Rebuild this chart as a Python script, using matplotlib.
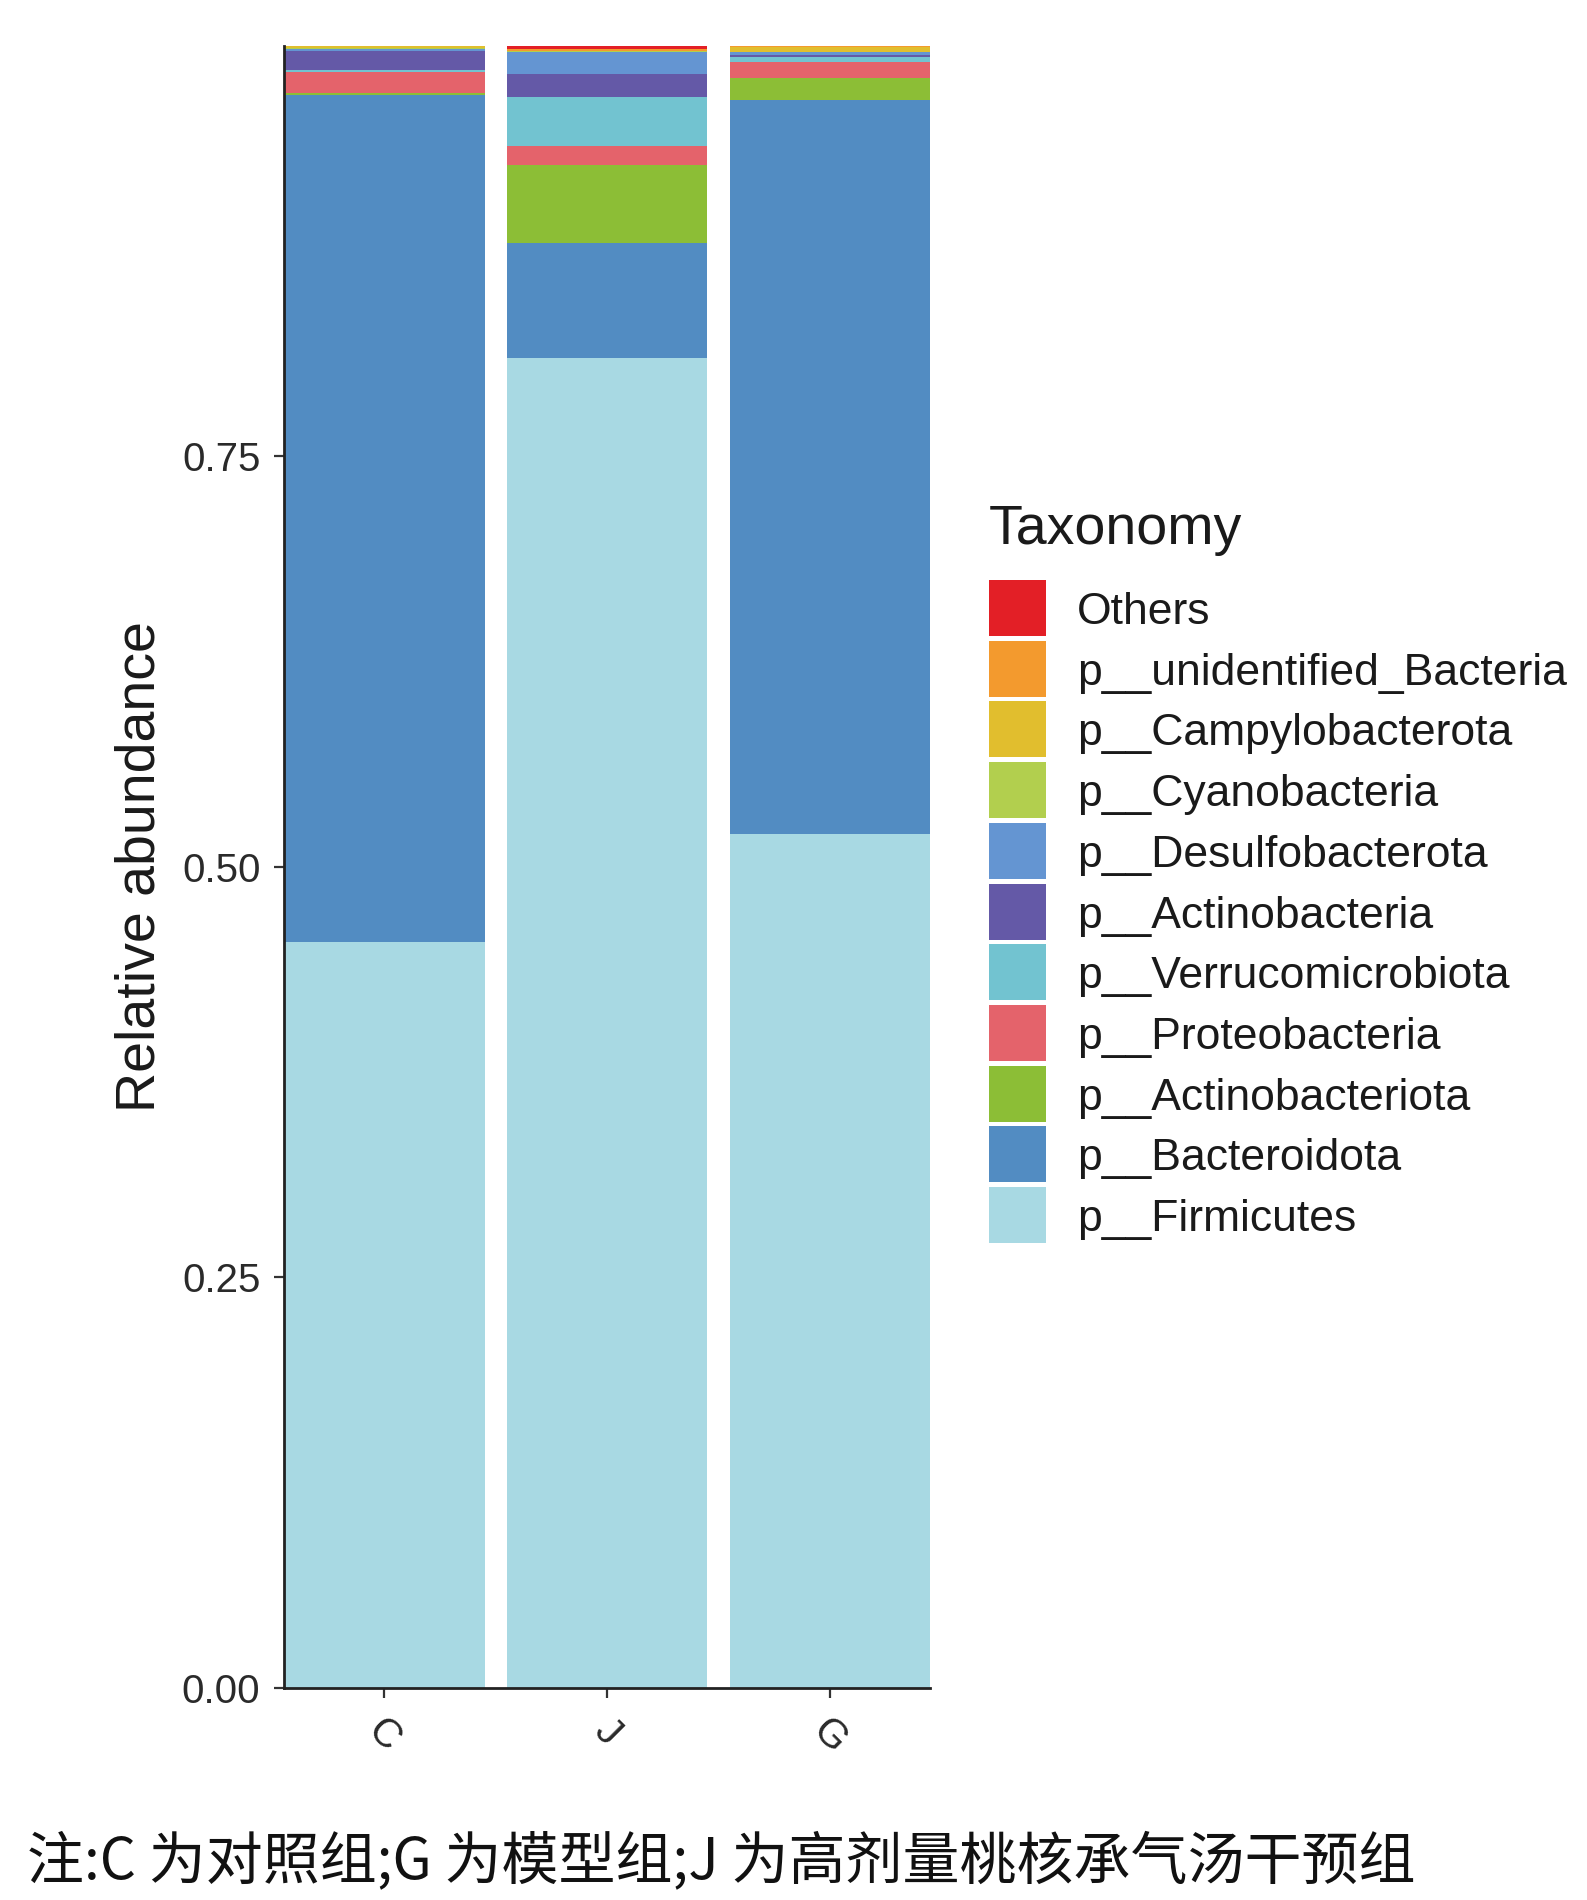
import matplotlib
matplotlib.use("Agg")
import matplotlib.pyplot as plt
from matplotlib.patches import Rectangle
import numpy as np

plt.rcParams['font.family'] = ['Liberation Sans', 'DejaVu Sans']

# --- datos ---
grupos = ["C", "J", "G"]

# orden de apilado: de abajo hacia arriba
taxones = ["p__Firmicutes", "p__Bacteroidota", "p__Actinobacteriota",
           "p__Proteobacteria", "p__Verrucomicrobiota", "p__Actinobacteria",
           "p__Desulfobacterota", "p__Cyanobacteria", "p__Campylobacterota",
           "p__unidentified_Bacteria", "Others"]

colores = ["#A8D9E3", "#528CC2", "#8CBE36", "#E4636B", "#72C3D0", "#6459A7",
           "#6495D2", "#B2CF4E", "#E1BE2E", "#F39A2E", "#E31F26"]

firmicutes        = [0.454, 0.810, 0.520]
bacteroidota      = [0.516, 0.070, 0.447]
actinobacteriota  = [0.001, 0.047, 0.013]
proteobacteria    = [0.013, 0.012, 0.010]
verrucomicrobiota = [0.001, 0.030, 0.003]
actinobacteria    = [0.012, 0.014, 0.001]
desulfobacterota  = [0.001, 0.013, 0.002]
cyanobacteria     = [0.0005, 0.0005, 0.0003]
campylobacterota  = [0.0045, 0.0005, 0.003]
unidentified      = [0.0005, 0.001, 0.0003]
others            = [0.0005, 0.002, 0.0004]

valores = [firmicutes, bacteroidota, actinobacteriota, proteobacteria,
           verrucomicrobiota, actinobacteria, desulfobacterota, cyanobacteria,
           campylobacterota, unidentified, others]

nota = "注:C 为对照组;G 为模型组;J 为高剂量桃核承气汤干预组"

W, H = 1587, 1900

# --- figura ---
fig = plt.figure(figsize=(W / 100, H / 100), dpi=100)
ax = fig.add_axes([0.179, 0.1116, 0.407, 0.8644])

x = np.arange(len(grupos))
base = np.zeros(len(grupos))
for nombre, vals, col in zip(taxones, valores, colores):
    ax.bar(x, vals, width=0.9, bottom=base, color=col, edgecolor="none",
           label=nombre)
    base += np.array(vals)

ax.set_xlim(-0.45, 2.45)
ax.set_ylim(0, 1.0)
ax.set_yticks([0, 0.25, 0.5, 0.75])
ax.set_yticklabels(["0.00", "0.25", "0.50", "0.75"])
ax.set_xticks(x)
ax.set_xticklabels(grupos, rotation=-45, ha="center", va="top")
ax.tick_params(axis="both", labelsize=29, labelcolor="#2a2a2a",
               length=7, width=1.6, color="#333333")
ax.tick_params(axis="y", pad=10)
ax.tick_params(axis="x", pad=10)
ax.set_ylabel("Relative abundance", fontsize=40, color="#1a1a1a", labelpad=11)

for s in ["top", "right"]:
    ax.spines[s].set_visible(False)
for s in ["left", "bottom"]:
    ax.spines[s].set_linewidth(2.0)
    ax.spines[s].set_color("#222222")

# --- leyenda dibujada a mano (Others arriba) ---
key_x, key_w, key_h = 989, 57, 56
fila0, paso = 580, 60.7
txt_x = 1077

fig.text(key_x / W, 1 - 544 / H, "Taxonomy", fontsize=40, color="#1a1a1a",
         ha="left", va="baseline")
for i, (nombre, col) in enumerate(zip(taxones[::-1], colores[::-1])):
    top = fila0 + i * paso
    fig.add_artist(Rectangle((key_x / W, 1 - (top + key_h) / H),
                             key_w / W, key_h / H,
                             facecolor=col, edgecolor="none",
                             transform=fig.transFigure))
    fig.text(txt_x / W, 1 - (top + key_h / 2) / H, nombre, fontsize=32,
             color="#1a1a1a", ha="left", va="center_baseline")

fig.text(0.017, 0.0200, nota, fontsize=41, ha="left", va="center",
         family=["Noto Sans CJK SC", "DejaVu Sans"], color="#111111")

fig.savefig("out.png", dpi=100, facecolor="white")
